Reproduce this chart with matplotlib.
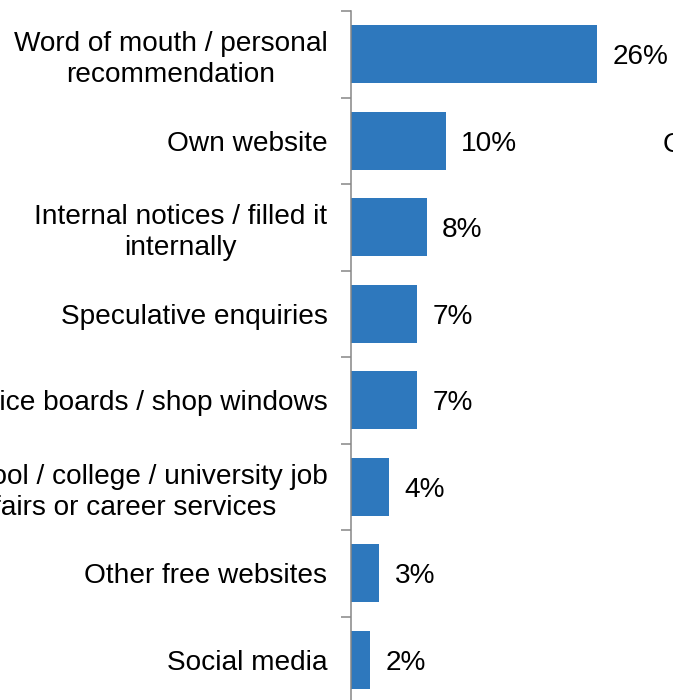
import matplotlib.pyplot as plt

# Recruitment channels used (share of employers)
categories = [
    "Word of mouth / personal\nrecommendation",
    "Own website",
    "Internal notices / filled it\ninternally",
    "Speculative enquiries",
    "Notice boards / shop windows",
    "School / college / university job\nfairs or career services",
    "Other free websites",
    "Social media",
]
values = [26, 10, 8, 7, 7, 4, 3, 2]
value_labels = ["26%", "10%", "8%", "7%", "7%", "4%", "3%", "2%"]

plt.rcParams['font.family'] = ['Liberation Sans', 'DejaVu Sans']

W, H = 673, 700
fig = plt.figure(figsize=(W / 100, H / 100), dpi=100)
# axes placed in pixels: spine at x=351, top at y=11, 86.5 px per category
ax_left, ax_top, ax_w, ax_h = 351, 11, 322, 8 * 86.5
ax = fig.add_axes([ax_left / W, 1 - (ax_top + ax_h) / H, ax_w / W, ax_h / H])

pos = list(range(len(categories)))
ax.barh(pos, values, height=0.67, color='#2E78BD')
ax.set_ylim(len(categories) - 0.5, -0.5)
ax.set_xlim(0, ax_w / 9.47)

fs = 20.2
for y, v, lab in zip(pos, values, value_labels):
    ax.annotate(lab, (v, y), xytext=(11, -2.2), textcoords='offset points',
                ha='left', va='center', fontsize=fs, color='black')

ax.set_yticks(pos)
ax.set_yticklabels(categories, fontsize=fs)
for t in ax.get_yticklabels():
    t.set_multialignment('center')
    t.set_linespacing(1.25)
ax.set_yticks([p - 0.5 for p in pos] + [len(pos) - 0.5], minor=True)
ax.tick_params(axis='y', which='major', length=0, pad=17)
ax.tick_params(axis='y', which='minor', length=7.2, width=1.1, color='#868686')

ax.set_xticks([])
for s in ['top', 'right', 'bottom']:
    ax.spines[s].set_visible(False)
ax.spines['left'].set_color('#868686')
ax.spines['left'].set_linewidth(1.1)

# partially visible text at the right edge
fig.text(663 / W, 1 - 145 / H, "C", fontsize=fs, ha='left', va='center')

fig.savefig('out.png', dpi=100)
